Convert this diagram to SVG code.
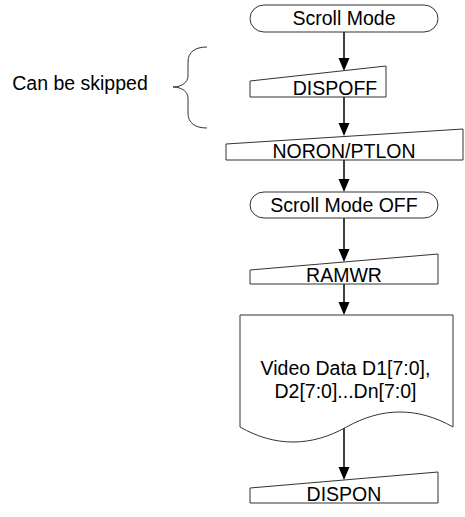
<svg xmlns="http://www.w3.org/2000/svg" width="465" height="517" viewBox="0 0 465 517">
<defs>
<style>
.box{fill:#fff;stroke:#333;stroke-width:1}
.t{font-family:"Liberation Sans",Arial,sans-serif;font-size:19.5px;fill:#000;text-anchor:middle}
.edge{stroke:#000;stroke-width:1.5;fill:none}
.head{fill:#000}
</style>
</defs>
<rect width="465" height="517" fill="#fff"/>
<g id="connectors">
<line class="edge" x1="344" y1="32" x2="344" y2="60"/>
<path class="head" d="M338.5,58 L349.5,58 L344,71 Z"/>
<line class="edge" x1="344" y1="97" x2="344" y2="125"/>
<path class="head" d="M338.5,123 L349.5,123 L344,136 Z"/>
<line class="edge" x1="344" y1="160" x2="344" y2="181"/>
<path class="head" d="M338.5,179 L349.5,179 L344,192 Z"/>
<line class="edge" x1="344" y1="218" x2="344" y2="251"/>
<path class="head" d="M338.5,249 L349.5,249 L344,262 Z"/>
<line class="edge" x1="344" y1="284" x2="344" y2="304"/>
<path class="head" d="M338.5,302 L349.5,302 L344,315 Z"/>
<line class="edge" x1="344" y1="426" x2="344" y2="469"/>
<path class="head" d="M338.5,467 L349.5,467 L344,480 Z"/>
</g>
<g id="scroll-mode">
<rect class="box" x="250" y="5" width="188" height="27" rx="14" ry="13.5"/>
<text class="t" x="344" y="25">Scroll Mode</text>
</g>
<g id="dispoff">
<polygon class="box" points="250,81 386,66 386,97 250,97"/>
<text class="t" x="335" y="95">DISPOFF</text>
</g>
<g id="noron-ptlon">
<polygon class="box" points="226,144 463,129 463,160 226,160"/>
<text class="t" x="344" y="158">NORON/PTLON</text>
</g>
<g id="scroll-mode-off">
<rect class="box" x="250" y="192" width="188" height="26" rx="14" ry="13"/>
<text class="t" x="344" y="212">Scroll Mode OFF</text>
</g>
<g id="ramwr">
<polygon class="box" points="250,270 438,254 438,284 250,284"/>
<text class="t" x="344" y="282">RAMWR</text>
</g>
<g id="video-data">
<path class="box" d="M240,315 L453,315 L453,427 C418,407 382,407 346.5,427 C311,447 275,447 240,427 Z"/>
<text class="t" x="345.5" y="375">Video Data D1[7:0],</text>
<text class="t" x="345.5" y="398">D2[7:0]...Dn[7:0]</text>
</g>
<g id="dispon">
<polygon class="box" points="250,488 438,472 438,503 250,503"/>
<text class="t" x="344" y="501">DISPON</text>
</g>
<g id="skip-note">
<path d="M207,47 C195,47 188,52 188,62 L188,76 C188,82 182,87 173,87 C182,87 188,92 188,98 L188,113 C188,123 195,128 207,128" fill="none" stroke="#333" stroke-width="1"/>
<text class="t" x="80" y="90">Can be skipped</text>
</g>
</svg>
